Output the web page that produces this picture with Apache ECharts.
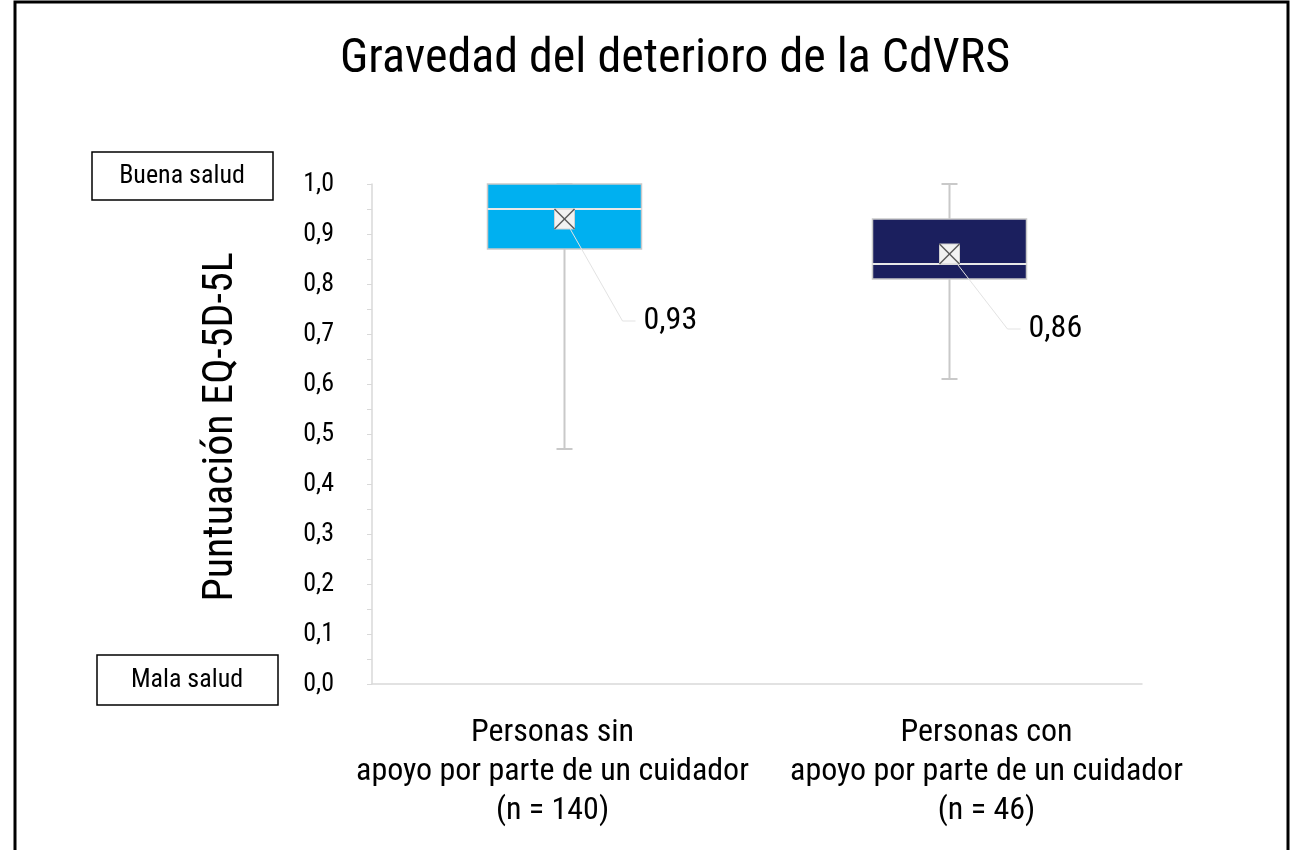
<!DOCTYPE html>
<html>
<head>
<meta charset="utf-8">
<script src="https://cdn.jsdelivr.net/npm/echarts@6/dist/echarts.min.js"></script>
<style>
  html, body { margin: 0; padding: 0; background: #fff; }
  #show { width: 1297px; height: 850px; }
</style>
</head>
<body>
<div id="show"></div>
<script>
    // datos del grafico
    var categorias = ['Personas sin\napoyo por parte de un cuidador\n(n = 140)', 'Personas con\napoyo por parte de un cuidador\n(n = 46)'];
    var minimos = [0.47, 0.61];
    var q1 = [0.87, 0.81];
    var medianas = [0.95, 0.84];
    var q3 = [1.0, 0.93];
    var maximos = [1.0, 1.0];
    var medias = [0.93, 0.86];
    var colores = ['#00B0F0', '#1B1F5E'];
    var desplazLabel = [102, 75]; // distancia vertical de la etiqueta de la media

    var fuente = "'Roboto Condensed', 'Liberation Sans Narrow', 'Roboto', sans-serif";
    var gris = '#c9c9c9';

    function coma(v, d) {
        return v.toFixed(d).replace('.', ',');
    }

    var datos = [];
    for (var i = 0; i < categorias.length; i++) {
        datos.push([i, minimos[i], q1[i], medianas[i], q3[i], maximos[i], medias[i]]);
    }

    function dibujaCaja(params, api) {
        var i = api.value(0);
        var pMin = api.coord([i, api.value(1)]);
        var pQ1 = api.coord([i, api.value(2)]);
        var pMed = api.coord([i, api.value(3)]);
        var pQ3 = api.coord([i, api.value(4)]);
        var pMax = api.coord([i, api.value(5)]);
        var pMedia = api.coord([i, api.value(6)]);
        var ancho = api.size([1, 0])[0] * 0.4;
        var x = pMin[0];
        var cap = 8;
        var m = 10;
        var ly = pMedia[1] + desplazLabel[i];
        return {
            type: 'group',
            children: [
                {type: 'line', shape: {x1: x, y1: pMax[1], x2: x, y2: pMin[1]}, style: {stroke: gris, lineWidth: 2}},
                {type: 'line', shape: {x1: x - cap, y1: pMax[1], x2: x + cap, y2: pMax[1]}, style: {stroke: gris, lineWidth: 2}},
                {type: 'line', shape: {x1: x - cap, y1: pMin[1], x2: x + cap, y2: pMin[1]}, style: {stroke: gris, lineWidth: 2}},
                {type: 'rect', shape: {x: x - ancho / 2, y: pQ3[1], width: ancho, height: pQ1[1] - pQ3[1]},
                    style: {fill: colores[i], stroke: gris, lineWidth: 1.5}},
                {type: 'line', shape: {x1: x - ancho / 2, y1: pMed[1], x2: x + ancho / 2, y2: pMed[1]}, style: {stroke: '#e8e8e8', lineWidth: 2}},
                {type: 'polyline', shape: {points: [[pMedia[0], pMedia[1]], [x + 58, ly], [x + 71, ly]]},
                    style: {stroke: '#e3e3e3', lineWidth: 1, fill: null}},
                {type: 'rect', shape: {x: pMedia[0] - m, y: pMedia[1] - m, width: 2 * m, height: 2 * m},
                    style: {fill: '#f2f2f2', stroke: '#d0d0d0', lineWidth: 1}},
                {type: 'line', shape: {x1: pMedia[0] - m, y1: pMedia[1] - m, x2: pMedia[0] + m, y2: pMedia[1] + m}, style: {stroke: '#595959', lineWidth: 1.5}},
                {type: 'line', shape: {x1: pMedia[0] + m, y1: pMedia[1] - m, x2: pMedia[0] - m, y2: pMedia[1] + m}, style: {stroke: '#595959', lineWidth: 1.5}},
                {type: 'text', x: x + 79, y: ly,
                    style: {text: coma(api.value(6), 2), fill: '#000', font: '32px ' + fuente, verticalAlign: 'middle', align: 'left'}}
            ]
        };
    }

    var myChart = echarts.init(document.getElementById('show'));
    var option = {
        animation: false,
        backgroundColor: '#fff',
        title: {
            text: 'Gravedad del deterioro de la CdVRS',
            left: 335,
            top: 31,
            textStyle: {fontFamily: fuente, fontSize: 48, fontWeight: 'normal', color: '#000'}
        },
        grid: {left: 372, right: 155, top: 184, bottom: 166},
        xAxis: {
            type: 'category',
            data: categorias,
            axisLine: {lineStyle: {color: '#d9d9d9', width: 1.5}},
            axisTick: {show: false},
            axisLabel: {
                interval: 0,
                margin: 29,
                formatter: function (v, idx) {
                    var k = idx === 0 ? 'a' : 'b';
                    return v.split('\n').map(function (s) { return '{' + k + '|' + s + '}'; }).join('\n');
                },
                rich: {
                    a: {fontFamily: fuente, fontSize: 32, color: '#000', lineHeight: 39, padding: [0, 24, 0, 0]},
                    b: {fontFamily: fuente, fontSize: 32, color: '#000', lineHeight: 39, padding: [0, 0, 0, 74]}
                }
            }
        },
        yAxis: {
            type: 'value',
            min: 0,
            max: 1,
            interval: 0.1,
            name: 'Puntuación EQ-5D-5L',
            nameLocation: 'middle',
            nameGap: 130,
            nameTextStyle: {fontFamily: fuente, fontSize: 42, color: '#000', padding: [0, 0, 0, 14]},
            axisLine: {show: true, lineStyle: {color: '#d9d9d9', width: 1.5}},
            axisTick: {show: true, length: 5, lineStyle: {color: '#d9d9d9'}},
            minorTick: {show: true, splitNumber: 2, length: 5, lineStyle: {color: '#d9d9d9'}},
            splitLine: {show: false},
            axisLabel: {
                margin: 38,
                fontFamily: fuente,
                fontSize: 26,
                color: '#000',
                formatter: function (v) { return coma(v, 1); }
            }
        },
        series: [{
            type: 'custom',
            renderItem: dibujaCaja,
            encode: {x: 0, y: [1, 2, 3, 4, 5, 6]},
            data: datos
        }],
        graphic: [
            {type: 'rect', shape: {x: 15, y: 2, width: 1273, height: 870}, style: {fill: null, stroke: '#000', lineWidth: 3}},
            {type: 'rect', shape: {x: 92, y: 152, width: 181, height: 48}, style: {fill: '#fff', stroke: '#000', lineWidth: 1.5}},
            {type: 'text', x: 182, y: 176, style: {text: 'Buena salud', font: '26px ' + fuente, fill: '#000', align: 'center', verticalAlign: 'middle'}},
            {type: 'rect', shape: {x: 97, y: 655, width: 181, height: 50}, style: {fill: '#fff', stroke: '#000', lineWidth: 1.5}},
            {type: 'text', x: 187, y: 680, style: {text: 'Mala salud', font: '26px ' + fuente, fill: '#000', align: 'center', verticalAlign: 'middle'}}
        ]
    };
    myChart.setOption(option);
</script>
</body>
</html>
